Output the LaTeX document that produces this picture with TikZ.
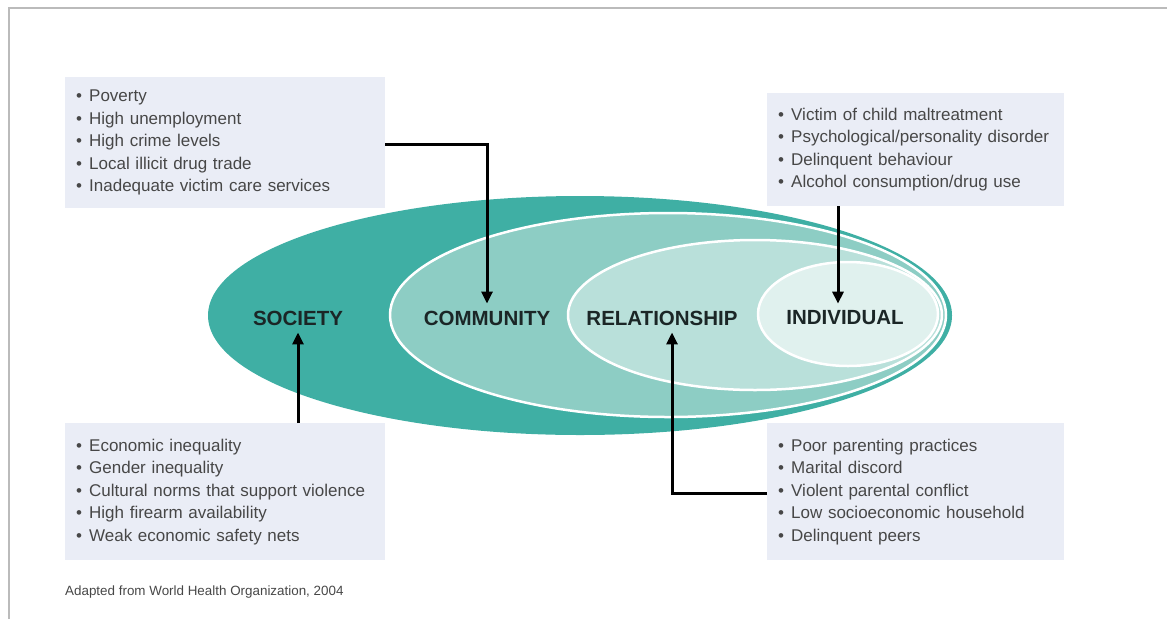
\documentclass[tikz,border=0pt]{standalone}
\usepackage{fontspec}
\setmainfont{Liberation Sans}
\usetikzlibrary{arrows.meta}
\definecolor{teal1}{HTML}{3FAFA4}
\definecolor{teal2}{HTML}{8DCDC4}
\definecolor{teal3}{HTML}{B9E0DA}
\definecolor{teal4}{HTML}{E0F1EE}
\definecolor{boxfill}{HTML}{EAEDF6}
\definecolor{txt}{HTML}{474747}
\definecolor{lbl}{HTML}{1B2626}
\definecolor{frame}{HTML}{BBBBBB}
\newcommand{\bul}[1]{\makebox[13pt][l]{\textbullet}#1}
\tikzset{
  listbox/.style={fill=boxfill, draw=none, anchor=north west, align=left, inner xsep=11pt, inner ysep=0pt,
    font=\fontsize{17}{22.5}\selectfont, text=txt},
  level/.style={font=\fontsize{20.5}{22}\selectfont\bfseries, text=lbl, inner sep=7pt},
  ring/.style={draw=white, line width=2.5pt},
  arr/.style={line width=3pt, -{Triangle[width=11pt,length=12pt]}}
}
\begin{document}
\begin{tikzpicture}[x=1pt,y=-1pt]
\useasboundingbox (0,0) rectangle (1167,619);
\draw[frame, line width=1.5pt] (9,619) -- (9,8) -- (1167,8);
% ellipses
\fill[teal1] (580,315.5) ellipse [x radius=372, y radius=119.5];
\filldraw[fill=teal2, ring] (668,315) ellipse [x radius=278, y radius=102];
\filldraw[fill=teal3, ring] (755,315) ellipse [x radius=187, y radius=75];
\filldraw[fill=teal4, ring] (848,314) ellipse [x radius=90, y radius=52];
% labels
\node[level] (soc) at (298,318) {SOCIETY};
\node[level] (com) at (487,318) {COMMUNITY};
\node[level] (rel) at (662,318) {RELATIONSHIP};
\node[level] (ind) at (845,318) {INDIVIDUAL};
% boxes
\node[listbox, minimum width=320pt, minimum height=131pt, text width=298pt] (tl) at (65,77) {%
\bul{Poverty}\\ \bul{High unemployment}\\ \bul{High crime levels}\\ \bul{Local illicit drug trade}\\ \bul{Inadequate victim care services}};
\node[listbox, minimum width=297pt, minimum height=113pt, text width=275pt] (tr) at (767,93) {%
\bul{Victim of child maltreatment}\\ \bul{Psychological/personality disorder}\\ \bul{Delinquent behaviour}\\ \bul{Alcohol consumption/drug use}};
\node[listbox, minimum width=320pt, minimum height=137pt, text width=298pt] (bl) at (65,423) {%
\bul{Economic inequality}\\ \bul{Gender inequality}\\ \bul{Cultural norms that support violence}\\ \bul{High firearm availability}\\ \bul{Weak economic safety nets}};
\node[listbox, minimum width=297pt, minimum height=137pt, text width=275pt] (br) at (767,423) {%
\bul{Poor parenting practices}\\ \bul{Marital discord}\\ \bul{Violent parental conflict}\\ \bul{Low socioeconomic household}\\ \bul{Delinquent peers}};
% arrows
\draw[arr] ([yshift=-2pt]tl.east) -| (com.north);
\draw[arr] ([xshift=-7pt]ind.north |- tr.south) -- ([xshift=-7pt]ind.north);
\draw[arr] (soc.south |- bl.north) -- (soc.south);
\draw[arr] ([yshift=-2pt]br.west) -| ([xshift=10pt]rel.south);
% source
\node[anchor=west, font=\fontsize{13.4}{14}\selectfont, text=txt, inner sep=0pt] (src) at (65,592) {Adapted from World Health Organization, 2004};
\end{tikzpicture}
\end{document}
